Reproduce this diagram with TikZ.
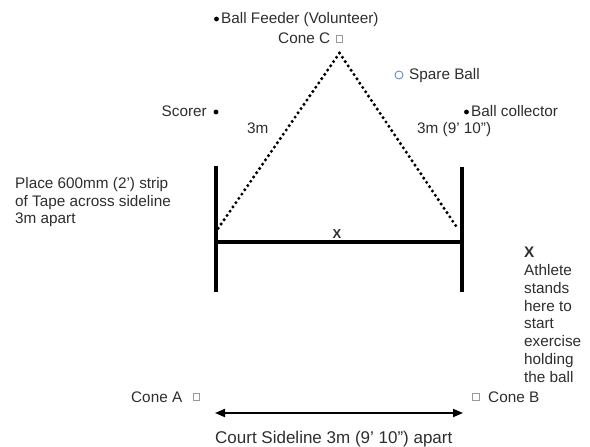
\documentclass[tikz,border=0pt]{standalone}
\usepackage{fontspec}
\setmainfont{Liberation Sans}
\usetikzlibrary{arrows.meta}
\definecolor{txt}{HTML}{2E2E2E}
\definecolor{ballblue}{HTML}{6A8CC8}
\begin{document}
\begin{tikzpicture}[x=1bp,y=-1bp,
  lbl/.style={inner sep=0, text=txt, font=\fontsize{15.3bp}{17.8bp}\selectfont},
  bullet/.style={circle, fill=black, inner sep=0, minimum size=4.8bp},
  cone/.style={draw=gray!80, line width=0.6bp, inner sep=0, minimum size=6.5bp},
  tape/.style={line width=4bp},
  dots/.style={line width=3.4bp, line cap=round, dash pattern=on 0bp off 5.2bp},
  measure/.style={line width=1.8bp, >={Triangle[length=10bp,width=8bp]}, <->}
]
\useasboundingbox (0,0) rectangle (590,447);
\fill[white] (0,0) rectangle (590,447);

% top people and cone C
\node[bullet] (feedb) at (216.5,19) {};
\node[lbl, anchor=base west] (feeder) at (221,24) {Ball Feeder (Volunteer)};
\node[lbl, anchor=base west] (conec) at (278,44) {Cone C};
\node[cone] (conecsq) at (339.5,39) {};
\node[circle, draw=ballblue, line width=0.9bp, inner sep=0, minimum size=8bp] (spare) at (399,75) {};
\node[lbl, anchor=base west] (sparetxt) at (409,80) {Spare Ball};
\node[lbl, anchor=base east] (scorer) at (207,117) {Scorer};
\node[bullet] (scorerb) at (216,112) {};
\node[bullet] (collb) at (466.5,112) {};
\node[lbl, anchor=base west] (coll) at (471,117) {Ball collector};
\node[lbl, anchor=base west] (lenl) at (247,134) {3m};
\node[lbl, anchor=base west] (lenr) at (417,134) {3m (9’ 10”)};

% dotted triangle
\coordinate (apex) at (339.5,53);
\coordinate (bl) at (217,230);
\coordinate (br) at (458,229);
\draw[dots] (apex) -- (bl);
\draw[dots] (apex) -- (br);

% tape strips
\coordinate (ltop) at (216,166);
\coordinate (lbot) at (216,292);
\coordinate (rtop) at (462,167);
\coordinate (rbot) at (462,292);
\coordinate (lmid) at (216,242);
\coordinate (rmid) at (462,242);
\draw[tape] (ltop) -- (lbot);
\draw[tape] (rtop) -- (rbot);
\draw[line width=3.5bp] (lmid) -- (rmid);
\node[lbl, font=\fontsize{13bp}{15bp}\selectfont\bfseries] (xmid) at (337,234) {X};

% side notes
\node[lbl, anchor=north west, align=left] (note) at (15,177) {Place 600mm (2’) strip\\of Tape across sideline\\3m apart};
\node[lbl, anchor=north west, align=left] (athlete) at (524,247) {\textbf{X}\\Athlete\\stands\\here to\\start\\exercise\\holding\\the ball};

% cones A and B
\node[lbl, anchor=base west] (conea) at (131,402) {Cone A};
\node[cone] (coneasq) at (196.5,397) {};
\node[cone] (conebsq) at (476,397) {};
\node[lbl, anchor=base west] (coneb) at (488,402) {Cone B};

% sideline arrow
\coordinate (arrl) at (215,413);
\coordinate (arrr) at (463,413);
\draw[measure] (arrl) -- (arrr);
\node[lbl, anchor=base west, font=\fontsize{17bp}{19bp}\selectfont] (court) at (215,443) {Court Sideline 3m (9’ 10”) apart};
\end{tikzpicture}
\end{document}
